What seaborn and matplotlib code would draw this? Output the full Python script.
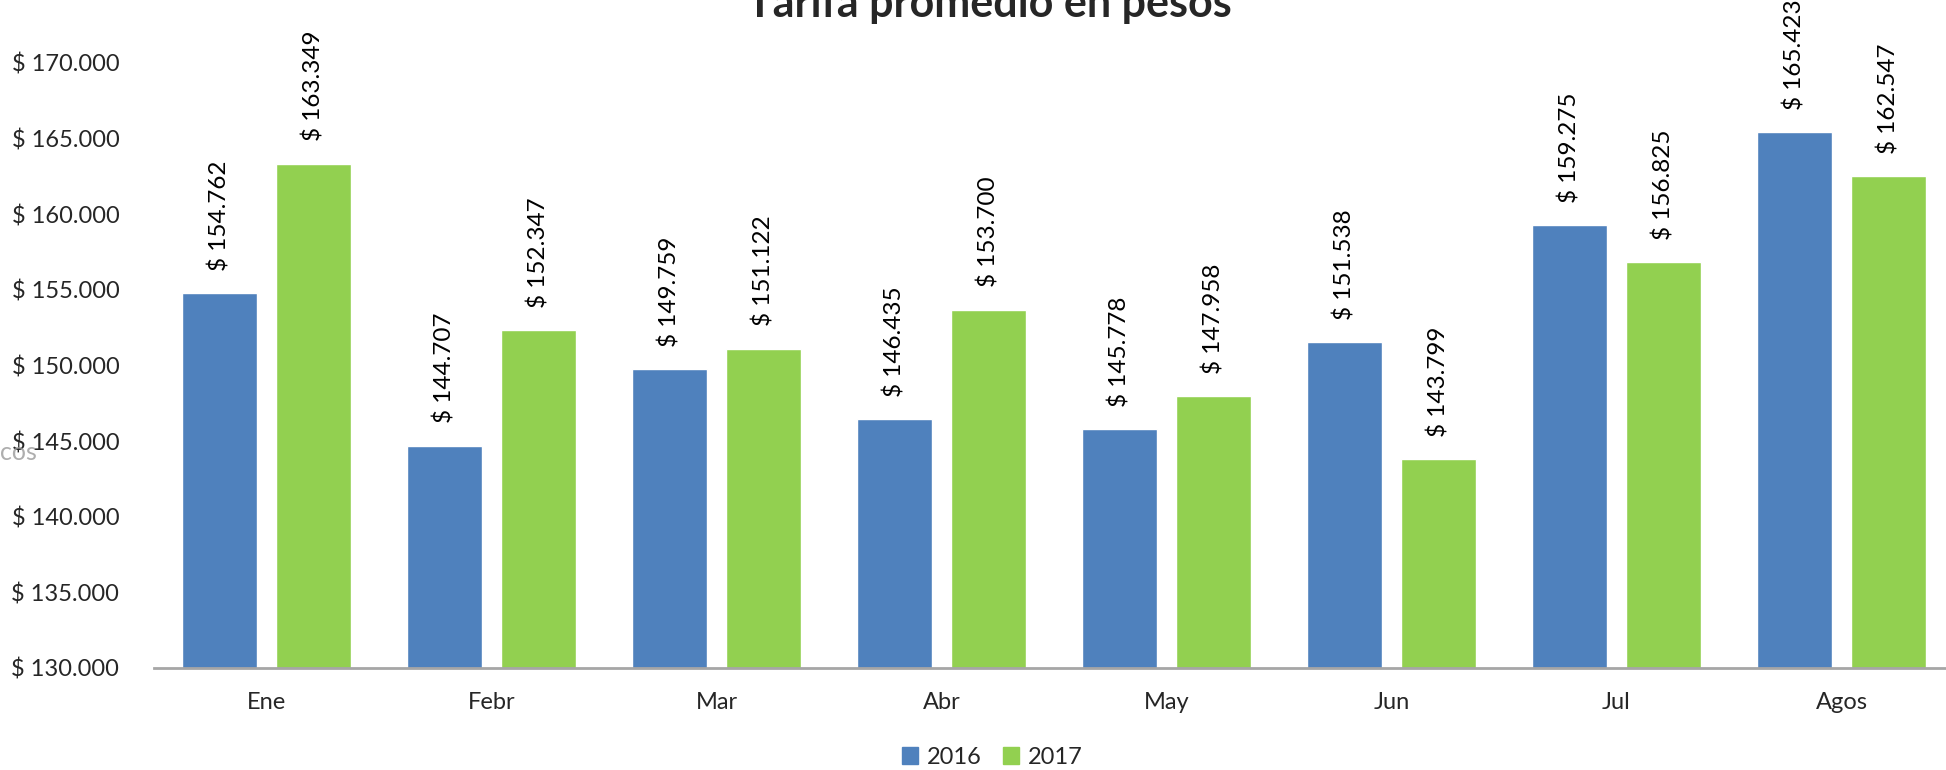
import numpy as np
import pandas as pd
import matplotlib
matplotlib.use("Agg")
import matplotlib.pyplot as plt
import seaborn as sns
from matplotlib.ticker import FuncFormatter

# --------------------------
# DATA
# --------------------------
months = ["Ene", "Febr", "Mar", "Abr", "May", "Jun", "Jul", "Agos"]
tarifa_2016 = [154762, 144707, 149759, 146435, 145778, 151538, 159275, 165423]
tarifa_2017 = [163349, 152347, 151122, 153700, 147958, 143799, 156825, 162547]
years = ["2016", "2017"]
colors = ["#4F81BD", "#92D050"]

df = pd.DataFrame({
    "mes": months * 2,
    "anio": [years[0]] * len(months) + [years[1]] * len(months),
    "tarifa": tarifa_2016 + tarifa_2017,
})

def pesos(v, pos=None):
    return "$ " + f"{int(v):,}".replace(",", ".")

# --------------------------
# PLOT
# --------------------------
sns.set_style("white")
plt.rcParams["font.family"] = ["Lato", "DejaVu Sans"]

fig = plt.figure(figsize=(19.46, 7.70), dpi=100)
ax = fig.add_axes([154 / 1946, 1 - 668 / 770, 1800 / 1946, (668 - 63) / 770])

sns.barplot(data=df, x="mes", y="tarifa", hue="anio", palette=colors,
            width=0.83, gap=0.2, saturation=1, ax=ax, legend=False)

for cont in ax.containers:
    vals = [b.get_height() for b in cont]
    ax.bar_label(cont, labels=[pesos(v) for v in vals], rotation=90,
                 padding=16, fontsize=17.5, color="black")

ax.set_ylim(130000, 170000)
ax.set_yticks(np.arange(130000, 170001, 5000))
ax.yaxis.set_major_formatter(FuncFormatter(pesos))
ax.set_xlim(-0.5, len(months) - 0.5)
ax.set_xlabel("")
ax.set_ylabel("")
ax.tick_params(axis="y", length=0, pad=25, labelsize=17)
ax.tick_params(axis="x", length=0, pad=17, labelsize=17)

for s in ["top", "right", "left"]:
    ax.spines[s].set_visible(False)
ax.spines["bottom"].set_color("#A6A6A6")
ax.spines["bottom"].set_linewidth(2)

# title (cut at top as in the source)
fig.text(989 / 1946, 1 - 17 / 770, "Tarifa promedio en pesos", ha="center",
         va="baseline", fontsize=31, fontweight="bold")

# leftover axis title fragment
fig.text(0, 1 - 453 / 770, "cos", ha="left", va="center", fontsize=18,
         color="#9A9A9A", alpha=0.8)

handles = [plt.Rectangle((0, 0), 1, 1, color=c) for c in colors]
fig.legend(handles, years, loc="center", bbox_to_anchor=(992 / 1946, 1 - 757 / 770),
           ncol=2, frameon=False, fontsize=17, handlelength=0.7, handleheight=0.7,
           handletextpad=0.35, columnspacing=0.9)

fig.savefig("out.png", dpi=100)
